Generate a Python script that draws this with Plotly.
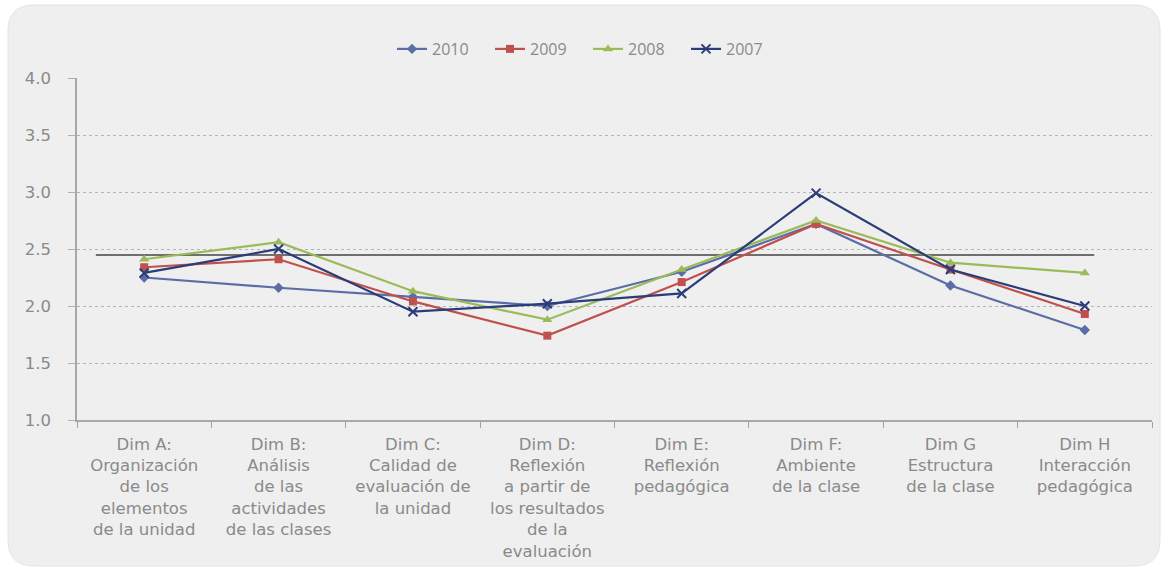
import plotly.graph_objects as go

# Dimension labels (x-axis categories)
categories = [
    "Dim A:<br>Organización<br>de los<br>elementos<br>de la unidad",
    "Dim B:<br>Análisis<br>de las<br>actividades<br>de las clases",
    "Dim C:<br>Calidad de<br>evaluación de<br>la unidad",
    "Dim D:<br>Reflexión<br>a partir de<br>los resultados<br>de la<br>evaluación",
    "Dim E:<br>Reflexión<br>pedagógica",
    "Dim F:<br>Ambiente<br>de la clase",
    "Dim G<br>Estructura<br>de la clase",
    "Dim H<br>Interacción<br>pedagógica",
]

# Mean score per dimension, by year
years = ["2010", "2009", "2008", "2007"]
v2010 = [2.25, 2.16, 2.08, 2.00, 2.30, 2.72, 2.18, 1.79]
v2009 = [2.34, 2.41, 2.04, 1.74, 2.21, 2.72, 2.32, 1.93]
v2008 = [2.41, 2.56, 2.13, 1.88, 2.32, 2.75, 2.38, 2.29]
v2007 = [2.29, 2.50, 1.95, 2.02, 2.11, 2.99, 2.32, 2.00]

# Reference level drawn as a horizontal line
reference_level = 2.447

y_ticks = [1.0, 1.5, 2.0, 2.5, 3.0, 3.5, 4.0]

series = [
    (years[0], v2010, "#5a6da6", dict(symbol="diamond", size=8)),
    (years[1], v2009, "#c0504d", dict(symbol="square", size=8)),
    (years[2], v2008, "#9bbb59", dict(symbol="triangle-up", size=9)),
    (years[3], v2007, "#2b3d78", dict(symbol="x-thin-open", size=9, line=dict(width=2))),
]

W, H = 1163, 571
ML, MR, MT, MB = 77, 11, 78, 151
PW, PH = W - ML - MR, H - MT - MB

fig = go.Figure()
for name, vals, color, marker in series:
    mk = dict(color=color, **marker)
    if "line" in mk:
        mk["line"]["color"] = color
    fig.add_trace(go.Scatter(
        x=categories, y=vals, name=name, mode="lines+markers",
        line=dict(color=color, width=2.2), marker=mk,
    ))


def px_x(px):
    return (px - ML) / PW


def px_y(py):
    return (H - MB - py) / PH


# Rounded background panel
x0, x1, y0, y1, r = 8, 1160, 5, 566, 26
rx, ry = r / PW, r / PH
path = (
    f"M {px_x(x0) + rx},{px_y(y0)} L {px_x(x1) - rx},{px_y(y0)} "
    f"Q {px_x(x1)},{px_y(y0)} {px_x(x1)},{px_y(y0) - ry} "
    f"L {px_x(x1)},{px_y(y1) + ry} Q {px_x(x1)},{px_y(y1)} {px_x(x1) - rx},{px_y(y1)} "
    f"L {px_x(x0) + rx},{px_y(y1)} Q {px_x(x0)},{px_y(y1)} {px_x(x0)},{px_y(y1) + ry} "
    f"L {px_x(x0)},{px_y(y0) - ry} Q {px_x(x0)},{px_y(y0)} {px_x(x0) + rx},{px_y(y0)} Z"
)
fig.add_shape(type="path", path=path, xref="paper", yref="paper",
              fillcolor="#efefef", line=dict(color="#e4e4e4", width=1), layer="below")

fig.add_shape(type="line", xref="x", yref="y", x0=-0.36, x1=7.07,
              y0=reference_level, y1=reference_level,
              line=dict(color="#444444", width=1.6), layer="below")

tick_font = dict(family="DejaVu Sans, sans-serif", size=16.5, color="#8a8a8a")
fig.update_layout(
    width=W, height=H,
    margin=dict(l=ML, r=MR, t=MT, b=MB),
    paper_bgcolor="white", plot_bgcolor="rgba(0,0,0,0)",
    font=dict(family="Open Sans, sans-serif", size=16, color="#8a8a8a"),
    showlegend=True,
    legend=dict(orientation="h", x=(588 - ML) / PW, xanchor="center",
                y=1.0 + (78 - 32) / PH, yanchor="top",
                font=dict(family="Open Sans, sans-serif", size=16, color="#8a8a8a"),
                bgcolor="rgba(0,0,0,0)", itemwidth=30,
                entrywidth=53, entrywidthmode="pixels"),
    xaxis=dict(
        type="category", tickson="boundaries", ticks="outside", ticklen=6,
        tickcolor="#a0a0a0", showline=True, linecolor="#a8a8a8", linewidth=1.5,
        showgrid=False, tickfont=tick_font, ticklabelstandoff=8,
        range=[-0.5, 7.5],
    ),
    yaxis=dict(
        range=[1.0, 4.0], tickvals=y_ticks, tickformat=".1f",
        ticks="outside", ticklen=7, tickcolor="#b0b0b0",
        showline=True, linecolor="#a8a8a8", linewidth=1.5,
        showgrid=True, gridcolor="#b4b4b4", griddash="dot", gridwidth=1,
        zeroline=False, tickfont=tick_font, ticklabelstandoff=14,
    ),
)

fig.write_html("out.html")
